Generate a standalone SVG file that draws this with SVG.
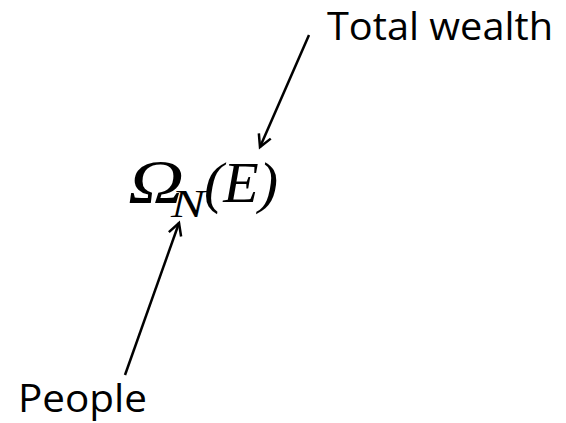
<svg xmlns="http://www.w3.org/2000/svg" width="566" height="423" viewBox="0 0 566 423">
<defs>
<marker id="ah" markerWidth="16" markerHeight="16" refX="13" refY="8" orient="auto" markerUnits="userSpaceOnUse">
<path d="M1,1.5 L13,8 L1,14.5" fill="none" stroke="#000" stroke-width="2.5"/>
</marker>
<style>
.lbl{font-family:"Open Sans","Liberation Sans",sans-serif;font-size:38px;fill:#000}
.math{font-family:"Liberation Serif","DejaVu Serif",serif;font-style:italic;fill:#000}
.conn{stroke:#000;stroke-width:2.5;fill:none}
</style>
</defs>
<rect width="566" height="423" fill="#fff"/>
<g id="formula">
<text class="math" x="128" y="202" font-size="62" textLength="56" lengthAdjust="spacingAndGlyphs">Ω</text>
<text class="math" x="171" y="217" font-size="40" textLength="34" lengthAdjust="spacingAndGlyphs">N</text>
<text class="math" x="204" y="202" font-size="56" textLength="74" lengthAdjust="spacingAndGlyphs">(E)</text>
</g>
<g id="total-wealth">
<text class="lbl" x="327" y="40" textLength="226" lengthAdjust="spacingAndGlyphs">Total wealth</text>
</g>
<g id="people">
<text class="lbl" x="18" y="412" textLength="129" lengthAdjust="spacingAndGlyphs">People</text>
</g>
<g id="connectors">
<line class="conn" x1="309" y1="35" x2="260" y2="147" marker-end="url(#ah)"/>
<line class="conn" x1="125" y1="375" x2="179" y2="223" marker-end="url(#ah)"/>
</g>
</svg>
